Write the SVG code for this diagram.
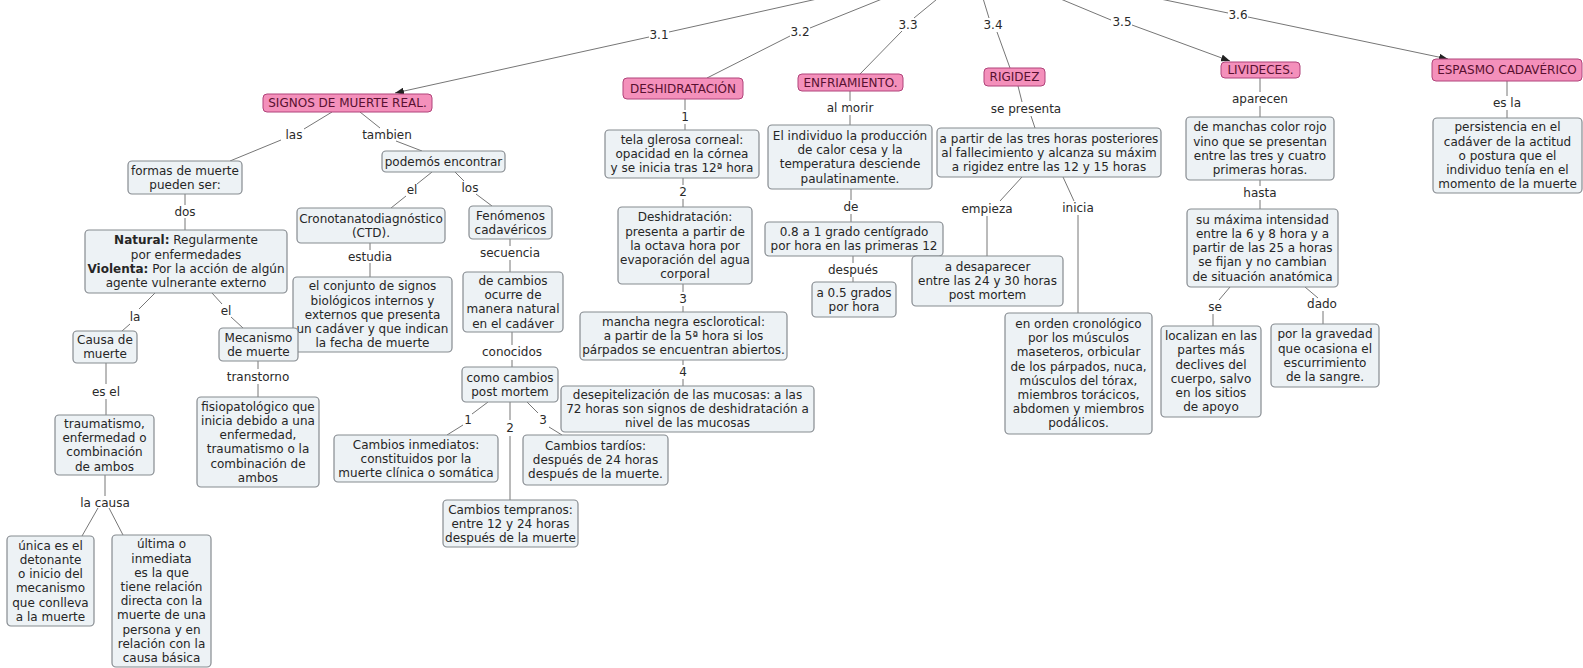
<svg xmlns="http://www.w3.org/2000/svg" width="1583" height="668" viewBox="0 0 1583 668">
<defs>
<style>
text{font-family:"DejaVu Sans",Verdana,sans-serif;font-size:12px;fill:#262626;text-anchor:middle}
.p rect{fill:#f490bb;stroke:#b0437a;stroke-width:1}
.p text{fill:#581030}
.g rect{fill:#edf2f5;stroke:#868b90;stroke-width:1.2}
#connectors line{stroke:#767676;stroke-width:1}
.lbl text{fill:#2a2a2a}
</style>
<marker id="arr" markerUnits="userSpaceOnUse" markerWidth="9" markerHeight="7" refX="9" refY="3.5" orient="auto">
<path d="M0,0 L9,3.5 L0,7 z" fill="#222"/>
</marker>
</defs>
<rect width="1583" height="668" fill="#fff"/>

<g id="connectors">
<line x1="835" y1="-5" x2="669" y2="32"/>
<line x1="649" y1="37" x2="395" y2="93" marker-end="url(#arr)"/>
<line x1="892" y1="-5" x2="810" y2="28"/>
<line x1="790" y1="36" x2="707" y2="78"/>
<line x1="942" y1="-5" x2="914" y2="18"/>
<line x1="902" y1="31" x2="860" y2="74"/>
<line x1="982" y1="-5" x2="989" y2="18"/>
<line x1="997" y1="32" x2="1010" y2="68"/>
<line x1="1051" y1="-5" x2="1111" y2="20"/>
<line x1="1132" y1="25" x2="1230" y2="61" marker-end="url(#arr)"/>
<line x1="1141" y1="-5" x2="1228" y2="13"/>
<line x1="1248" y1="17" x2="1448" y2="59" marker-end="url(#arr)"/>

<line x1="332" y1="112" x2="304" y2="129"/>
<line x1="281" y1="140" x2="230" y2="161"/>
<line x1="360" y1="112" x2="380" y2="128"/>
<line x1="396" y1="141" x2="422" y2="151"/>
<line x1="185" y1="194" x2="185" y2="205"/>
<line x1="185" y1="218" x2="185" y2="230"/>
<line x1="155" y1="293" x2="139" y2="309"/>
<line x1="130" y1="324" x2="122" y2="331"/>
<line x1="212" y1="293" x2="222" y2="304"/>
<line x1="231" y1="317" x2="243" y2="328"/>
<line x1="106" y1="363" x2="106" y2="384"/>
<line x1="106" y1="399" x2="106" y2="415"/>
<line x1="258" y1="361" x2="258" y2="369"/>
<line x1="258" y1="384" x2="258" y2="397"/>
<line x1="105" y1="475" x2="105" y2="496"/>
<line x1="98" y1="508" x2="82" y2="536"/>
<line x1="109" y1="508" x2="123" y2="535"/>
<line x1="432" y1="172" x2="417" y2="184"/>
<line x1="406" y1="196" x2="391" y2="208"/>
<line x1="455" y1="172" x2="464" y2="181"/>
<line x1="476" y1="194" x2="492" y2="206"/>
<line x1="370" y1="243" x2="370" y2="250"/>
<line x1="370" y1="263" x2="370" y2="277"/>
<line x1="510" y1="239" x2="510" y2="246"/>
<line x1="510" y1="260" x2="510" y2="272"/>
<line x1="512" y1="332" x2="512" y2="345"/>
<line x1="512" y1="360" x2="512" y2="367"/>
<line x1="488" y1="402" x2="472" y2="414"/>
<line x1="463" y1="425" x2="447" y2="435"/>
<line x1="510" y1="402" x2="510" y2="420"/>
<line x1="510" y1="436" x2="510" y2="500"/>
<line x1="527" y1="402" x2="538" y2="413"/>
<line x1="549" y1="427" x2="562" y2="435"/>
<line x1="685" y1="99" x2="685" y2="110"/>
<line x1="685" y1="124" x2="685" y2="130"/>
<line x1="683" y1="178" x2="683" y2="185"/>
<line x1="683" y1="199" x2="683" y2="207"/>
<line x1="683" y1="284" x2="683" y2="292"/>
<line x1="683" y1="306" x2="683" y2="312"/>
<line x1="683" y1="360" x2="683" y2="365"/>
<line x1="683" y1="379" x2="683" y2="386"/>
<line x1="850" y1="91" x2="850" y2="101"/>
<line x1="850" y1="115" x2="850" y2="125"/>
<line x1="851" y1="189" x2="851" y2="200"/>
<line x1="851" y1="214" x2="851" y2="222"/>
<line x1="853" y1="256" x2="853" y2="263"/>
<line x1="853" y1="277" x2="853" y2="282"/>
<line x1="1018" y1="86" x2="1022" y2="102"/>
<line x1="1031" y1="116" x2="1035" y2="128"/>
<line x1="1022" y1="177" x2="1000" y2="201"/>
<line x1="987" y1="216" x2="987" y2="256"/>
<line x1="1063" y1="177" x2="1074" y2="201"/>
<line x1="1078" y1="215" x2="1078" y2="313"/>
<line x1="1260" y1="78" x2="1260" y2="92"/>
<line x1="1260" y1="106" x2="1260" y2="117"/>
<line x1="1260" y1="180" x2="1260" y2="186"/>
<line x1="1260" y1="200" x2="1260" y2="209"/>
<line x1="1230" y1="287" x2="1219" y2="300"/>
<line x1="1213" y1="314" x2="1213" y2="326"/>
<line x1="1305" y1="287" x2="1318" y2="298"/>
<line x1="1323" y1="311" x2="1323" y2="324"/>
<line x1="1507" y1="81" x2="1507" y2="96"/>
<line x1="1507" y1="110" x2="1507" y2="118"/>
</g>

<g id="labels" class="lbl">
<text x="659" y="39">3.1</text>
<text x="800" y="36">3.2</text>
<text x="908" y="29">3.3</text>
<text x="993" y="29">3.4</text>
<text x="1122" y="26">3.5</text>
<text x="1238" y="19">3.6</text>
<text x="294" y="139">las</text>
<text x="387" y="139">tambien</text>
<text x="185" y="216">dos</text>
<text x="135" y="321">la</text>
<text x="226" y="315">el</text>
<text x="106" y="396">es el</text>
<text x="258" y="381">transtorno</text>
<text x="105" y="507">la causa</text>
<text x="412" y="194">el</text>
<text x="470" y="192">los</text>
<text x="370" y="261">estudia</text>
<text x="510" y="257">secuencia</text>
<text x="512" y="356">conocidos</text>
<text x="468" y="424">1</text>
<text x="510" y="432">2</text>
<text x="543" y="424">3</text>
<text x="685" y="121">1</text>
<text x="683" y="196">2</text>
<text x="683" y="303">3</text>
<text x="683" y="376">4</text>
<text x="850" y="112">al morir</text>
<text x="851" y="211">de</text>
<text x="853" y="274">después</text>
<text x="1026" y="113">se presenta</text>
<text x="987" y="213">empieza</text>
<text x="1078" y="212">inicia</text>
<text x="1260" y="103">aparecen</text>
<text x="1260" y="197">hasta</text>
<text x="1215" y="311">se</text>
<text x="1322" y="308">dado</text>
<text x="1507" y="107">es la</text>
</g>

<g id="n-signos" class="p"><rect x="263" y="94" width="169" height="18" rx="4"/><text x="347.5" y="107.2">SIGNOS DE MUERTE REAL.</text></g>
<g id="n-deshid" class="p"><rect x="623" y="78" width="120" height="21" rx="4"/><text x="683" y="92.7">DESHIDRATACIÓN</text></g>
<g id="n-enfr" class="p"><rect x="798" y="74" width="105" height="17" rx="4"/><text x="850.5" y="86.7">ENFRIAMIENTO.</text></g>
<g id="n-rigidez" class="p"><rect x="984" y="68" width="61" height="18" rx="4"/><text x="1014.5" y="81.2">RIGIDEZ</text></g>
<g id="n-livid" class="p"><rect x="1221" y="62" width="79" height="16" rx="4"/><text x="1260.5" y="74.2">LIVIDECES.</text></g>
<g id="n-espasmo" class="p"><rect x="1432" y="59" width="150" height="22" rx="4"/><text x="1507" y="74.2">ESPASMO CADAVÉRICO</text></g>

<g id="n-formas" class="g"><rect x="128" y="161" width="114" height="33" rx="4"/><text><tspan x="185" y="174.6">formas de muerte</tspan><tspan x="185" y="188.8">pueden ser:</tspan></text></g>
<g id="n-natural" class="g"><rect x="85" y="230" width="202" height="63" rx="4"/><text><tspan x="186" y="244.4"><tspan font-weight="bold">Natural:</tspan> Regularmente</tspan><tspan x="186" y="258.6">por enfermedades</tspan><tspan x="186" y="272.8"><tspan font-weight="bold">Violenta:</tspan> Por la acción de algún</tspan><tspan x="186" y="287">agente vulnerante externo</tspan></text></g>
<g id="n-causa" class="g"><rect x="73" y="331" width="64" height="32" rx="4"/><text><tspan x="105" y="344.1">Causa de</tspan><tspan x="105" y="358.3">muerte</tspan></text></g>
<g id="n-conjunto" class="g"><rect x="293" y="277" width="159" height="75" rx="4"/><text><tspan x="372.5" y="290.3">el conjunto de signos</tspan><tspan x="372.5" y="304.5">biológicos internos y</tspan><tspan x="372.5" y="318.7">externos que presenta</tspan><tspan x="372.5" y="332.9">un cadáver y que indican</tspan><tspan x="372.5" y="347.1">la fecha de muerte</tspan></text></g>
<g id="n-mecanismo" class="g"><rect x="219" y="328" width="79" height="33" rx="4"/><text><tspan x="258.5" y="341.6">Mecanismo</tspan><tspan x="258.5" y="355.8">de muerte</tspan></text></g>
<g id="n-traumatismo" class="g"><rect x="55" y="415" width="99" height="60" rx="4"/><text><tspan x="104.5" y="427.9">traumatismo,</tspan><tspan x="104.5" y="442.1">enfermedad o</tspan><tspan x="104.5" y="456.3">combinación</tspan><tspan x="104.5" y="470.5">de ambos</tspan></text></g>
<g id="n-fisio" class="g"><rect x="197" y="397" width="122" height="90" rx="4"/><text><tspan x="258" y="410.7">fisiopatológico que</tspan><tspan x="258" y="424.9">inicia debido a una</tspan><tspan x="258" y="439.1">enfermedad,</tspan><tspan x="258" y="453.3">traumatismo o la</tspan><tspan x="258" y="467.5">combinación de</tspan><tspan x="258" y="481.7">ambos</tspan></text></g>
<g id="n-unica" class="g"><rect x="7" y="536" width="87" height="90" rx="4"/><text><tspan x="50.5" y="549.7">única es el</tspan><tspan x="50.5" y="563.9">detonante</tspan><tspan x="50.5" y="578.1">o inicio del</tspan><tspan x="50.5" y="592.3">mecanismo</tspan><tspan x="50.5" y="606.5">que conlleva</tspan><tspan x="50.5" y="620.7">a la muerte</tspan></text></g>
<g id="n-ultima" class="g"><rect x="112" y="535" width="99" height="132" rx="4"/><text><tspan x="161.5" y="548.4">última o</tspan><tspan x="161.5" y="562.6">inmediata</tspan><tspan x="161.5" y="576.8">es la que</tspan><tspan x="161.5" y="591">tiene relación</tspan><tspan x="161.5" y="605.2">directa con la</tspan><tspan x="161.5" y="619.4">muerte de una</tspan><tspan x="161.5" y="633.6">persona y en</tspan><tspan x="161.5" y="647.8">relación con la</tspan><tspan x="161.5" y="662">causa básica</tspan></text></g>
<g id="n-podemos" class="g"><rect x="382" y="151" width="123" height="21" rx="4"/><text x="443.5" y="165.7">podemós encontrar</text></g>
<g id="n-crono" class="g"><rect x="297" y="208" width="148" height="35" rx="4"/><text><tspan x="371" y="222.6">Cronotanatodiagnóstico</tspan><tspan x="371" y="236.8">(CTD).</tspan></text></g>
<g id="n-fenomenos" class="g"><rect x="469" y="206" width="83" height="33" rx="4"/><text><tspan x="510.5" y="219.6">Fenómenos</tspan><tspan x="510.5" y="233.8">cadavéricos</tspan></text></g>
<g id="n-decambios" class="g"><rect x="463" y="272" width="100" height="60" rx="4"/><text><tspan x="513" y="284.9">de cambios</tspan><tspan x="513" y="299.1">ocurre de</tspan><tspan x="513" y="313.3">manera natural</tspan><tspan x="513" y="327.5">en el cadáver</tspan></text></g>
<g id="n-como" class="g"><rect x="462" y="367" width="96" height="35" rx="4"/><text><tspan x="510" y="381.6">como cambios</tspan><tspan x="510" y="395.8">post mortem</tspan></text></g>
<g id="n-inmediatos" class="g"><rect x="334" y="435" width="164" height="47" rx="4"/><text><tspan x="416" y="448.5">Cambios inmediatos:</tspan><tspan x="416" y="462.7">constituidos por la</tspan><tspan x="416" y="476.9">muerte clínica o somática</tspan></text></g>
<g id="n-tardios" class="g"><rect x="523" y="435" width="145" height="50" rx="4"/><text><tspan x="595.5" y="450">Cambios tardíos:</tspan><tspan x="595.5" y="464.2">después de 24 horas</tspan><tspan x="595.5" y="478.4">después de la muerte.</tspan></text></g>
<g id="n-tempranos" class="g"><rect x="443" y="500" width="135" height="47" rx="4"/><text><tspan x="510.5" y="513.5">Cambios tempranos:</tspan><tspan x="510.5" y="527.7">entre 12 y 24 horas</tspan><tspan x="510.5" y="541.9">después de la muerte</tspan></text></g>
<g id="n-tela" class="g"><rect x="605" y="130" width="154" height="48" rx="4"/><text><tspan x="682" y="144">tela glerosa corneal:</tspan><tspan x="682" y="158.2">opacidad en la córnea</tspan><tspan x="682" y="172.4">y se inicia tras 12ª hora</tspan></text></g>
<g id="n-deshid2" class="g"><rect x="618" y="207" width="134" height="77" rx="4"/><text><tspan x="685" y="221.3">Deshidratación:</tspan><tspan x="685" y="235.5">presenta a partir de</tspan><tspan x="685" y="249.7">la octava hora por</tspan><tspan x="685" y="263.9">evaporación del agua</tspan><tspan x="685" y="278.1">corporal</tspan></text></g>
<g id="n-mancha" class="g"><rect x="580" y="312" width="207" height="48" rx="4"/><text><tspan x="683.5" y="326">mancha negra esclorotical:</tspan><tspan x="683.5" y="340.2">a partir de la 5ª hora si los</tspan><tspan x="683.5" y="354.4">párpados se encuentran abiertos.</tspan></text></g>
<g id="n-desep" class="g"><rect x="561" y="386" width="253" height="46" rx="4"/><text><tspan x="687.5" y="399">desepitelización de las mucosas: a las</tspan><tspan x="687.5" y="413.2">72 horas son signos de deshidratación a</tspan><tspan x="687.5" y="427.4">nivel de las mucosas</tspan></text></g>
<g id="n-individuo" class="g"><rect x="768" y="125" width="164" height="64" rx="4"/><text><tspan x="850" y="139.9">El individuo la producción</tspan><tspan x="850" y="154.1">de calor cesa y la</tspan><tspan x="850" y="168.3">temperatura desciende</tspan><tspan x="850" y="182.5">paulatinamente.</tspan></text></g>
<g id="n-08" class="g"><rect x="765" y="222" width="178" height="34" rx="4"/><text><tspan x="854" y="236.1">0.8 a 1 grado centígrado</tspan><tspan x="854" y="250.3">por hora en las primeras 12</tspan></text></g>
<g id="n-05" class="g"><rect x="812" y="282" width="84" height="35" rx="4"/><text><tspan x="854" y="296.6">a 0.5 grados</tspan><tspan x="854" y="310.8">por hora</tspan></text></g>
<g id="n-apartir" class="g"><rect x="937" y="128" width="224" height="49" rx="4"/><text><tspan x="1049" y="142.5">a partir de las tres horas posteriores</tspan><tspan x="1049" y="156.7">al fallecimiento y alcanza su máxim</tspan><tspan x="1049" y="170.9">a rigidez entre las 12 y 15 horas</tspan></text></g>
<g id="n-desaparecer" class="g"><rect x="912" y="256" width="151" height="50" rx="4"/><text><tspan x="987.5" y="271">a desaparecer</tspan><tspan x="987.5" y="285.2">entre las 24 y 30 horas</tspan><tspan x="987.5" y="299.4">post mortem</tspan></text></g>
<g id="n-orden" class="g"><rect x="1005" y="313" width="147" height="121" rx="4"/><text><tspan x="1078.5" y="328">en orden cronológico</tspan><tspan x="1078.5" y="342.2">por los músculos</tspan><tspan x="1078.5" y="356.4">maseteros, orbicular</tspan><tspan x="1078.5" y="370.6">de los párpados, nuca,</tspan><tspan x="1078.5" y="384.8">músculos del tórax,</tspan><tspan x="1078.5" y="399">miembros torácicos,</tspan><tspan x="1078.5" y="413.2">abdomen y miembros</tspan><tspan x="1078.5" y="427.4">podálicos.</tspan></text></g>
<g id="n-manchas" class="g"><rect x="1186" y="117" width="148" height="63" rx="4"/><text><tspan x="1260" y="131.4">de manchas color rojo</tspan><tspan x="1260" y="145.6">vino que se presentan</tspan><tspan x="1260" y="159.8">entre las tres y cuatro</tspan><tspan x="1260" y="174">primeras horas.</tspan></text></g>
<g id="n-maxima" class="g"><rect x="1187" y="209" width="151" height="78" rx="4"/><text><tspan x="1262.5" y="223.8">su máxima intensidad</tspan><tspan x="1262.5" y="238">entre la 6 y 8 hora y a</tspan><tspan x="1262.5" y="252.2">partir de las 25 a horas</tspan><tspan x="1262.5" y="266.4">se fijan y no cambian</tspan><tspan x="1262.5" y="280.6">de situación anatómica</tspan></text></g>
<g id="n-localizan" class="g"><rect x="1161" y="326" width="100" height="91" rx="4"/><text><tspan x="1211" y="340.2">localizan en las</tspan><tspan x="1211" y="354.4">partes más</tspan><tspan x="1211" y="368.6">declives del</tspan><tspan x="1211" y="382.8">cuerpo, salvo</tspan><tspan x="1211" y="397">en los sitios</tspan><tspan x="1211" y="411.2">de apoyo</tspan></text></g>
<g id="n-gravedad" class="g"><rect x="1271" y="324" width="108" height="63" rx="4"/><text><tspan x="1325" y="338.4">por la gravedad</tspan><tspan x="1325" y="352.6">que ocasiona el</tspan><tspan x="1325" y="366.8">escurrimiento</tspan><tspan x="1325" y="381">de la sangre.</tspan></text></g>
<g id="n-persistencia" class="g"><rect x="1433" y="118" width="149" height="75" rx="4"/><text><tspan x="1507.5" y="131.3">persistencia en el</tspan><tspan x="1507.5" y="145.5">cadáver de la actitud</tspan><tspan x="1507.5" y="159.7">o postura que el</tspan><tspan x="1507.5" y="173.9">individuo tenía en el</tspan><tspan x="1507.5" y="188.1">momento de la muerte</tspan></text></g>
</svg>
